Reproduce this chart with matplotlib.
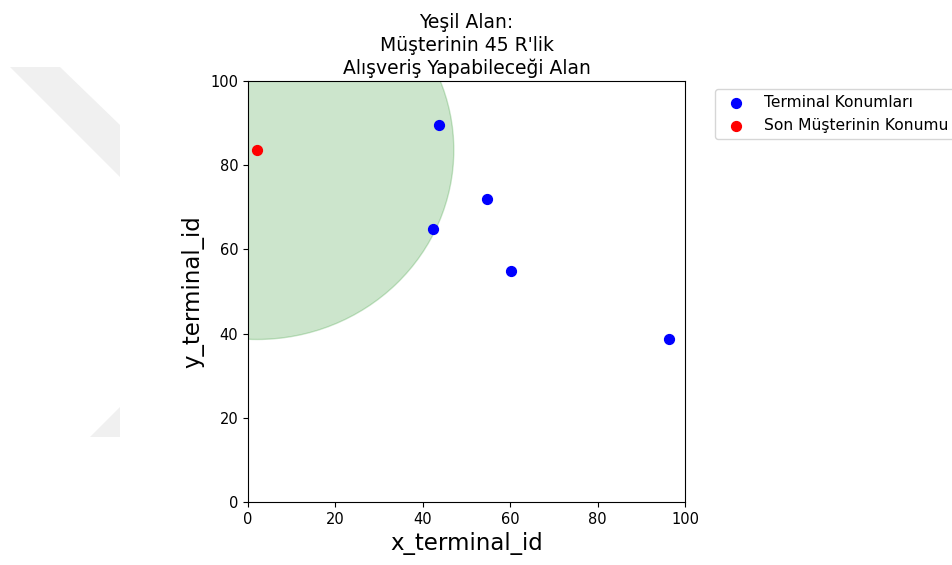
import matplotlib
matplotlib.use("Agg")
import matplotlib.pyplot as plt
from matplotlib.patches import Circle, Polygon

# Data
terminal_x = [43.8, 54.8, 42.3, 60.2, 96.4]
terminal_y = [89.5, 71.9, 64.8, 54.9, 38.6]
customer_x = [2.1]
customer_y = [83.6]
radius = 45
ticks = [0, 20, 40, 60, 80, 100]
title = "Yeşil Alan:\nMüşterinin 45 R'lik\nAlışveriş Yapabileceği Alan"
legend_labels = ["Terminal Konumları", "Son Müşterinin Konumu"]

W, H = 952, 565
fig = plt.figure(figsize=(W / 100, H / 100), dpi=100)

# faint background watermark shapes (pixel coordinates -> figure fraction)
def px(pts):
    return [(x / W, 1 - y / H) for x, y in pts]

for pts in ([(10, 67), (60, 67), (120, 125), (120, 177)],
            [(90, 437), (120, 407), (120, 437)]):
    fig.patches.append(Polygon(px(pts), closed=True, transform=fig.transFigure,
                               facecolor="#f0f0f0", edgecolor="none", zorder=0))

ax = fig.add_axes([248 / W, 1 - 502 / H, 437 / W, 421 / H])
ax.patch.set_alpha(0)

ax.add_patch(Circle((customer_x[0], customer_y[0]), radius, color="green", alpha=0.2))
ax.scatter(terminal_x, terminal_y, s=50, color="blue", label=legend_labels[0], zorder=3)
ax.scatter(customer_x, customer_y, s=50, color="red", label=legend_labels[1], zorder=3)

ax.set_xlim(0, 100)
ax.set_ylim(0, 100)
ax.set_xticks(ticks)
ax.set_yticks(ticks)
ax.tick_params(labelsize=10.5)
ax.set_xlabel("x_terminal_id", fontsize=16.5)
ax.set_ylabel("y_terminal_id", fontsize=16.5)
ax.set_title(title, fontsize=13.5, linespacing=1.25, pad=5)
ax.legend(bbox_to_anchor=(1.05, 1), loc="upper left", fontsize=11.2)

fig.savefig("out.png", dpi=100)
